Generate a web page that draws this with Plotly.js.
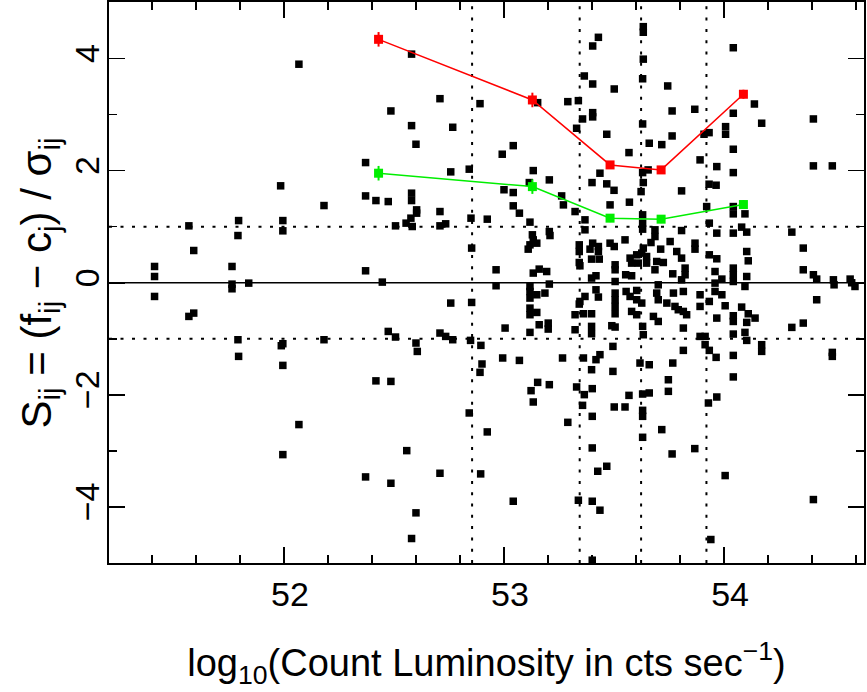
<!DOCTYPE html>
<html>
<head>
<meta charset="utf-8">
<script src="https://cdn.plot.ly/plotly-3.0.1.min.js"></script>
<style>html,body{margin:0;padding:0;background:#fff;}#chart{width:867px;height:692px;}</style>
</head>
<body>
<div id="chart"></div>
<script>
// Scatter of individual points: log10 count luminosity vs S_ij
const ptX = [
52.068,51.985,52.58,52.709,52.891,52.486,52.58,52.767,52.60,52.371,52.758,52.842,
53.633,53.633,53.429,53.403,53.633,53.365,53.403,53.63,53.501,53.744,53.29,53.338,53.153,53.403,53.403,53.357,53.764,53.33,53.63,53.467,53.764,53.66,53.717,53.042,52.992,53.568,53.133,53.206,53.436,53.40,53.467,53.63,53.655,53.633,53.115,53.00,53.50,
54.042,54.138,53.867,54.042,54.406,54.171,54.007,54.007,53.932,53.909,54.042,53.891,53.967,54.406,54.492,54.042,53.932,53.964,53.807,
51.568,51.794,51.791,51.995,51.995,51.59,51.412,51.412,51.764,51.764,51.764,51.84,51.412,51.59,51.568,51.791,51.794,51.988,51.995,51.995,
52.182,52.371,52.418,52.474,52.58,52.58,52.603,52.603,52.577,52.555,52.583,52.507,52.709,52.709,52.735,52.85,52.924,52.853,52.371,52.447,52.758,52.853,52.182,52.474,52.507,52.60,52.606,52.709,52.735,52.767,52.848,52.895,52.90,52.891,52.418,52.486,
52.068,52.842,52.924,52.558,52.371,52.486,52.709,52.894,52.60,52.58,51.995,
53.042,53.262,53.27,53.623,53.042,53.07,53.323,53.482,53.57,53.63,53.63,53.63,53.118,53.368,53.368,53.206,53.209,53.129,53.133,53.118,53.149,53.11,53.342,53.342,53.403,53.429,53.391,53.429,53.398,53.433,53.342,53.345,53.482,53.501,53.55,53.686,53.686,53.668,53.755,53.785,53.712,53.633,53.626,53.648,53.603,53.573,53.58,53.61,53.648,53.694,53.724,53.686,53.505,53.505,52.964,53.133,53.16,53.194,53.767,53.553,53.58,53.418,53.398,52.964,53.206,53.505,53.701,53.118,53.118,53.149,53.186,53.118,53.418,53.429,53.368,53.345,53.555,53.603,53.573,53.603,53.626,53.505,53.505,53.694,53.701,53.74,53.77,53.777,53.792,53.118,53.149,53.118,53.342,53.323,53.361,53.398,53.505,53.505,53.58,53.603,53.679,53.701,53.16,53.201,53.201,53.005,53.118,53.323,53.398,53.398,53.49,53.505,53.63,53.633,53.495,53.436,53.418,53.398,53.361,53.266,52.994,53.07,53.495,53.618,53.66,53.767,53.747,
53.153,53.123,53.133,53.206,53.33,53.365,53.401,53.357,53.401,53.29,53.568,53.501,53.55,53.63,53.66,53.747,53.63,53.63,53.717,53.63,53.764,53.401,53.467,53.426,53.042,53.338,53.401,53.436,53.401,
53.921,54.042,54.042,54.095,53.933,53.807,53.967,54.042,54.08,54.103,54.308,53.868,53.868,54.36,54.103,54.11,53.933,53.967,53.807,53.823,53.823,53.807,53.959,53.99,53.959,54.042,54.042,54.042,54.103,54.095,54.36,54.406,54.421,54.497,54.50,54.573,54.595,54.58,53.815,53.959,53.99,53.891,53.933,54.421,53.891,54.005,54.08,53.815,53.83,54.042,54.11,54.141,53.967,54.042,54.103,54.308,54.36,53.815,54.042,54.095,53.891,53.914,54.103,53.914,53.933,54.171,54.171,53.815,53.964,54.042,54.492,54.492,54.042,
53.967,53.929,53.867,54.005,54.406,53.94
];
const ptY = [
3.90,1.73,4.08,3.285,3.196,3.066,2.804,2.775,2.472,2.145,1.979,2.027,
4.57,4.47,4.38,4.225,3.99,3.69,3.547,3.64,3.458,3.512,3.232,3.25,3.214,3.036,2.96,2.923,3.066,2.757,2.834,2.65,2.62,2.49,2.465,2.447,2.294,2.323,2.002,1.836,1.955,1.788,1.765,1.966,2.014,1.788,1.788,1.66,1.65,
4.194,3.19,3.096,3.025,2.923,2.847,2.786,2.65,2.679,2.65,2.383,2.193,2.073,2.086,2.086,1.966,1.759,1.741,1.64,
1.016,1.11,0.843,1.11,0.927,0.576,0.291,0.112,0.291,-0.024,-0.107,-0.006,-0.244,-0.541,-0.60,-1.016,-1.313,-1.123,-1.087,-1.474,
1.378,1.55,1.467,1.449,1.599,1.467,1.301,1.242,1.153,1.064,1.004,1.016,1.271,1.016,1.052,1.153,1.135,0.619,0.214,0.012,-0.362,-0.351,-1.016,-0.868,-0.968,-1.075,-1.225,-0.897,-0.957,-1.016,-1.028,-1.117,-1.449,-1.598,-1.75,-1.76,
-2.53,-2.323,-2.661,-2.995,-3.464,-3.577,-3.399,-3.41,-4.105,-4.563,-3.066,
1.61,1.55,1.39,1.627,1.373,1.242,1.271,1.39,1.438,1.212,1.064,0.957,1.082,1.123,0.945,0.914,0.843,0.856,0.766,0.677,0.707,0.60,0.677,0.558,0.707,0.647,0.60,0.558,0.422,0.422,0.362,0.303,0.707,0.647,0.766,0.945,0.825,0.718,0.736,0.558,0.60,0.619,0.529,0.469,0.499,0.44,0.351,0.351,0.351,0.38,0.362,0.232,0.321,0.232,0.232,0.173,0.244,0.201,0.16,0.143,0.125,0.125,0.084,-0.053,-0.023,0.023,-0.036,-0.066,-0.155,-0.214,-0.184,-0.273,-0.125,-0.255,-0.244,-0.333,-0.155,-0.137,-0.244,-0.303,-0.362,-0.184,-0.303,-0.184,-0.303,-0.362,-0.184,-0.422,-0.481,-0.452,-0.529,-0.57,-0.38,-0.57,-0.553,-0.553,-0.422,-0.553,-0.511,-0.57,-0.60,-0.69,-0.749,-0.719,-0.826,-0.808,-0.885,-0.838,-0.778,-0.909,-0.766,-0.79,-0.778,-0.927,-1.135,-1.283,-1.372,-1.551,-1.342,-1.342,-1.342,-1.385,-1.581,-1.432,-1.462,-1.432,-1.73,
-1.777,-1.925,-2.127,-1.818,-1.859,-1.996,-1.889,-2.187,-2.383,-2.49,-2.009,-2.216,-2.216,-1.985,-1.966,-1.937,-2.276,-2.383,-2.62,-2.757,-3.054,-2.947,-3.274,-3.363,-3.898,-3.88,-3.898,-4.058,-4.95,
1.36,1.36,1.23,1.23,1.064,0.932,0.886,0.886,0.993,0.904,0.904,0.707,0.60,0.619,0.558,0.392,0.499,0.428,0.44,0.262,0.143,0.053,0.201,0.066,-0.006,0.262,0.143,0.023,0.112,-0.066,0.232,0.143,0.066,0.053,-0.036,0.066,-0.066,0.0,-0.155,-0.155,-0.214,-0.214,-0.333,-0.303,-0.422,-0.41,-0.434,-0.511,-0.57,-0.588,-0.553,-0.63,-0.63,-0.69,-0.707,-0.796,-0.719,-0.808,-0.915,-0.885,-0.957,-0.957,-1.028,-1.105,-1.206,-1.105,-1.224,-1.206,-1.331,-1.296,-1.242,-1.313,-1.68,
-2.038,-2.145,-2.959,-3.44,-3.868,-4.581
];

// Binned summary curves
const binX = [52.430, 53.129, 53.482, 53.714, 54.088];
const redY = [4.344, 3.262, 2.103, 2.014, 3.364];
const redErr = [0.13, 0.13, 0.07, 0.07, 0.08];
const greenY = [1.955, 1.716, 1.153, 1.135, 1.396];
const greenErr = [0.13, 0.13, 0.07, 0.07, 0.08];

// Reference lines
const vLines = [52.855, 53.344, 53.623, 53.92];
const hDotted = [-1, 1];
const hSolid = [0];

const xRange = [51.205, 54.636];
const yRange = [-5.0, 5.01];

const shapes = [];
vLines.forEach(v => shapes.push({type:'line', xref:'x', yref:'paper', x0:v, x1:v, y0:0, y1:1,
  line:{color:'#000', width:2, dash:'3px,8.3px'}, layer:'below'}));
hDotted.forEach(h => shapes.push({type:'line', xref:'paper', yref:'y', x0:0, x1:1, y0:h, y1:h,
  line:{color:'#000', width:2, dash:'3px,8.5px'}, layer:'below'}));
hSolid.forEach(h => shapes.push({type:'line', xref:'paper', yref:'y', x0:0, x1:1, y0:h, y1:h,
  line:{color:'#000', width:1.5}, layer:'below'}));

const traces = [
  {x: ptX, y: ptY, mode:'markers', type:'scatter',
   marker:{symbol:'square', size:7.5, color:'#000'}, hoverinfo:'skip'},
  {x: binX, y: redY, mode:'lines+markers', type:'scatter',
   line:{color:'#ff0000', width:1.5},
   marker:{symbol:'square', size:9, color:'#ff0000'},
   error_y:{type:'data', array:redErr, color:'#ff0000', thickness:2, width:0}},
  {x: binX, y: greenY, mode:'lines+markers', type:'scatter',
   line:{color:'#00ee00', width:1.5},
   marker:{symbol:'square', size:9, color:'#00ee00'},
   error_y:{type:'data', array:greenErr, color:'#00ee00', thickness:2, width:0}}
];

const fontFam = '"Liberation Sans", Arial, Helvetica, sans-serif';
const yTitle = 'S<sub>ij</sub> = (f<sub>ij</sub> \u2212 c<sub>j</sub>) / \u03c3<sub>ij</sub>';
const layout = {
  width: 867, height: 692,
  margin: {l:109, r:3, t:2, b:129},
  paper_bgcolor:'#fff', plot_bgcolor:'#fff',
  showlegend:false,
  font:{family:fontFam, color:'#000', size:34},
  shapes: shapes,
  annotations: [{
    text: yTitle, xref:'paper', yref:'paper', x:-0.0914, y:0.5,
    xanchor:'center', yanchor:'middle', textangle:-90, showarrow:false,
    font:{size:42, family:fontFam, color:'#000'}
  }],
  xaxis: {
    range: xRange, tick0:0, dtick:1, ticks:'inside', ticklen:16, tickwidth:1.5, tickcolor:'#000',
    minor:{dtick:0.2, ticks:'inside', ticklen:8, tickwidth:1.5, tickcolor:'#000', showgrid:false},
    showline:true, linewidth:2, linecolor:'#000', mirror:'ticks',
    showgrid:false, zeroline:false, automargin:false,
    tickfont:{size:34, family:fontFam}, ticklabelshift:6,
    title:{text:'log<sub>10</sub>(Count Luminosity in cts sec<sup>\u22121</sup>)', font:{size:38, family:fontFam}, standoff:38}
  },
  yaxis: {
    range: yRange, tick0:0, dtick:2, ticks:'inside', ticklen:16, tickwidth:1.5, tickcolor:'#000',
    minor:{dtick:1, ticks:'inside', ticklen:8, tickwidth:1.5, tickcolor:'#000', showgrid:false},
    showline:true, linewidth:2, linecolor:'#000', mirror:'ticks',
    showgrid:false, zeroline:false, automargin:false, tickangle:-90,
    tickfont:{size:34, family:fontFam}, ticklabelstandoff:-6
  }
};

Plotly.newPlot('chart', traces, layout, {staticPlot:true, displayModeBar:false});
</script>
</body>
</html>
